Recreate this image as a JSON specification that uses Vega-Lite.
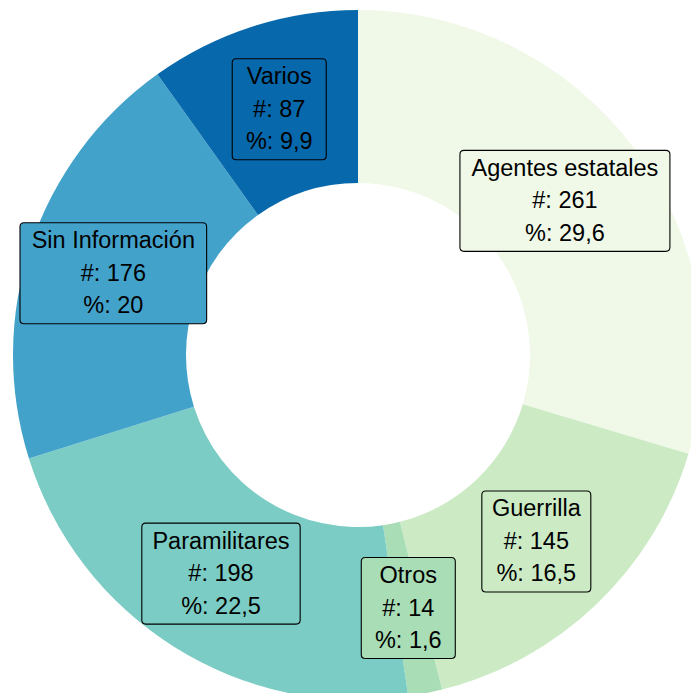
{
  "$schema": "https://vega.github.io/schema/vega-lite/v6.json",
  "width": 666,
  "height": 676,
  "autosize": {"type": "none"},
  "padding": {"left": 25, "top": 17, "right": 0, "bottom": 0},
  "background": "white",
  "config": {"view": {"stroke": null}},
  "data": {
    "values": [
      {"category": "Agentes estatales", "n": 261, "pct": "29,6"},
      {"category": "Guerrilla", "n": 145, "pct": "16,5"},
      {"category": "Otros", "n": 14, "pct": "1,6"},
      {"category": "Paramilitares", "n": 198, "pct": "22,5"},
      {"category": "Sin Información", "n": 176, "pct": "20"},
      {"category": "Varios", "n": 87, "pct": "9,9"}
    ]
  },
  "transform": [
    {"stack": "n", "groupby": [], "as": ["s0", "s1"], "sort": [{"field": "category", "order": "ascending"}]},
    {"joinaggregate": [{"op": "sum", "field": "n", "as": "total"}]},
    {"calculate": "PI * (datum.s0 + datum.s1) / datum.total", "as": "ang"},
    {"calculate": "sin(datum.ang)", "as": "lx"},
    {"calculate": "cos(datum.ang)", "as": "ly"},
    {"calculate": "[datum.category, '#: ' + datum.n, '%: ' + datum.pct]", "as": "label"}
  ],
  "layer": [
    {
      "mark": {"type": "arc", "innerRadius": 172, "outerRadius": 345},
      "encoding": {
        "theta": {"field": "n", "type": "quantitative", "stack": true},
        "order": {"field": "category", "type": "ordinal", "sort": "ascending"},
        "color": {
          "field": "category",
          "type": "nominal",
          "scale": {
            "domain": ["Agentes estatales", "Guerrilla", "Otros", "Paramilitares", "Sin Información", "Varios"],
            "range": ["#f0f9e8", "#ccebc5", "#a8ddb5", "#7bccc4", "#43a2ca", "#0868ac"]
          },
          "legend": null
        }
      }
    },
    {
      "mark": {"type": "point", "filled": true, "opacity": 1, "stroke": "black", "strokeWidth": 1.1, "size": 10201},
      "encoding": {
        "x": {"field": "lx", "type": "quantitative", "scale": {"domain": [-1.2907, 1.2907], "nice": false, "zero": false}, "axis": null},
        "y": {"field": "ly", "type": "quantitative", "scale": {"domain": [-1.31008, 1.31008], "nice": false, "zero": false}, "axis": null},
        "color": {"field": "category", "type": "nominal", "legend": null},
        "shape": {
          "field": "category",
          "type": "nominal",
          "scale": {
            "domain": ["Agentes estatales", "Guerrilla", "Otros", "Paramilitares", "Sin Información", "Varios"],
            "range": [
              "M-1.999,-1H1.999Q2.079,-1 2.079,-0.92V0.92Q2.079,1 1.999,1H-1.999Q-2.079,1 -2.079,0.92V-0.92Q-2.079,-1 -1.999,-1Z",
              "M-0.999,-1H0.999Q1.079,-1 1.079,-0.92V0.92Q1.079,1 0.999,1H-0.999Q-1.079,1 -1.079,0.92V-0.92Q-1.079,-1 -0.999,-1Z",
              "M-0.851,-1H0.851Q0.931,-1 0.931,-0.92V0.92Q0.931,1 0.851,1H-0.851Q-0.931,1 -0.931,0.92V-0.92Q-0.931,-1 -0.851,-1Z",
              "M-1.488,-1H1.488Q1.568,-1 1.568,-0.92V0.92Q1.568,1 1.488,1H-1.488Q-1.568,1 -1.568,0.92V-0.92Q-1.568,-1 -1.488,-1Z",
              "M-1.768,-1H1.768Q1.848,-1 1.848,-0.92V0.92Q1.848,1 1.768,1H-1.768Q-1.848,1 -1.848,0.92V-0.92Q-1.848,-1 -1.768,-1Z",
              "M-0.851,-1H0.851Q0.931,-1 0.931,-0.92V0.92Q0.931,1 0.851,1H-0.851Q-0.931,1 -0.931,0.92V-0.92Q-0.931,-1 -0.851,-1Z"
            ]
          },
          "legend": null
        }
      }
    },
    {
      "mark": {"type": "text", "font": "Liberation Sans", "fontSize": 23.5, "lineHeight": 32.5, "align": "center", "baseline": "middle", "dy": -32, "color": "black"},
      "encoding": {
        "x": {"field": "lx", "type": "quantitative"},
        "y": {"field": "ly", "type": "quantitative"},
        "text": {"field": "label"}
      }
    }
  ]
}
